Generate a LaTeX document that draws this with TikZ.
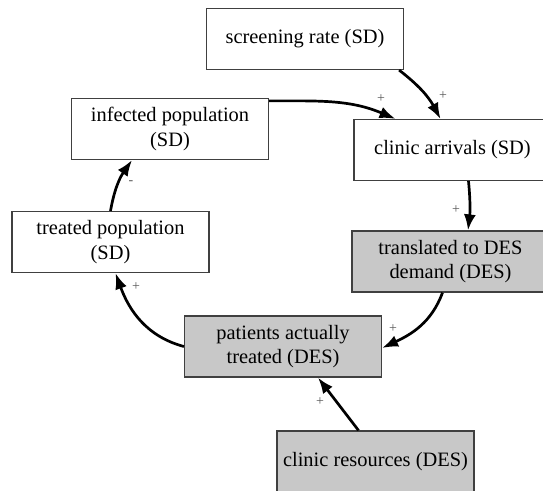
\documentclass[tikz,border=0pt]{standalone}
\usepackage{fontspec}
\setmainfont{Liberation Serif}
\usetikzlibrary{arrows.meta}

\definecolor{desgray}{RGB}{200,200,200}
\tikzset{
	sdbox/.style={draw=black!75, line width=1.2bp, fill=white, minimum width=197bp,
		minimum height=61bp, align=center, inner sep=0pt,
		font=\fontsize{20.5}{24.5}\selectfont},
	desbox/.style={sdbox, fill=desgray},
	link/.style={-{Latex[length=16bp,width=12bp]}, line width=2.7bp},
	sign/.style={font=\fontsize{14}{15}\selectfont, text=black!65, inner sep=0pt}
}

\begin{document}
\begin{tikzpicture}[x=1bp,y=1bp]
			\useasboundingbox (0,0) rectangle (543,-491);
			\clip (0,0) rectangle (543,-491);
			% SD part
			\node[sdbox] (rate) at (305,-39) {screening rate (SD)};
			\node[sdbox] (infected) at (170,-129) {infected population\\(SD)};
			\node[sdbox] (arrivals) at (452.5,-150) {clinic arrivals (SD)};
			\node[sdbox] (treated) at (110.5,-242) {treated population\\(SD)};
			% DES part
			\node[desbox] (demand) at (450.5,-261.5) {translated to DES\\demand (DES)};
			\node[desbox] (patients) at (283,-346.5) {patients actually\\treated (DES)};
			\node[desbox] (resources) at (375.5,-461.5) {clinic resources (DES)};
			% links
			\draw[link] ([xshift=-5bp]rate.south east) to[bend left=12] ([xshift=-12bp]arrivals.north);
			\draw[link] ([yshift=-3bp]infected.north east) to[out=0,in=157] ([xshift=-57bp]arrivals.north);
			\draw[link] ([xshift=16bp]arrivals.south) to[bend left=6] ([xshift=17.5bp]demand.north);
			\draw[link] ([xshift=-8bp]demand.south) to[out=-110,in=25] ([yshift=-1.5bp]patients.east);
			\draw[link] ([xshift=-17bp]resources.north) -- ([xshift=35bp]patients.south);
			\draw[link] (patients.west) to[out=165,in=-70] ([xshift=5bp]treated.south);
			\draw[link] (treated.north) to[out=80,in=-125] ([xshift=-38bp]infected.south);
			% signs
			\node[sign] (s1) at (443,-96) {+};
			\node[sign] (s2) at (381,-99) {+};
			\node[sign] (s3) at (456,-210) {+};
			\node[sign] (s4) at (393,-329) {+};
			\node[sign] (s5) at (320,-402) {+};
			\node[sign] (s6) at (136,-287) {+};
			\node[sign] (s7) at (131,-183) {-};
		\end{tikzpicture}
\end{document}
